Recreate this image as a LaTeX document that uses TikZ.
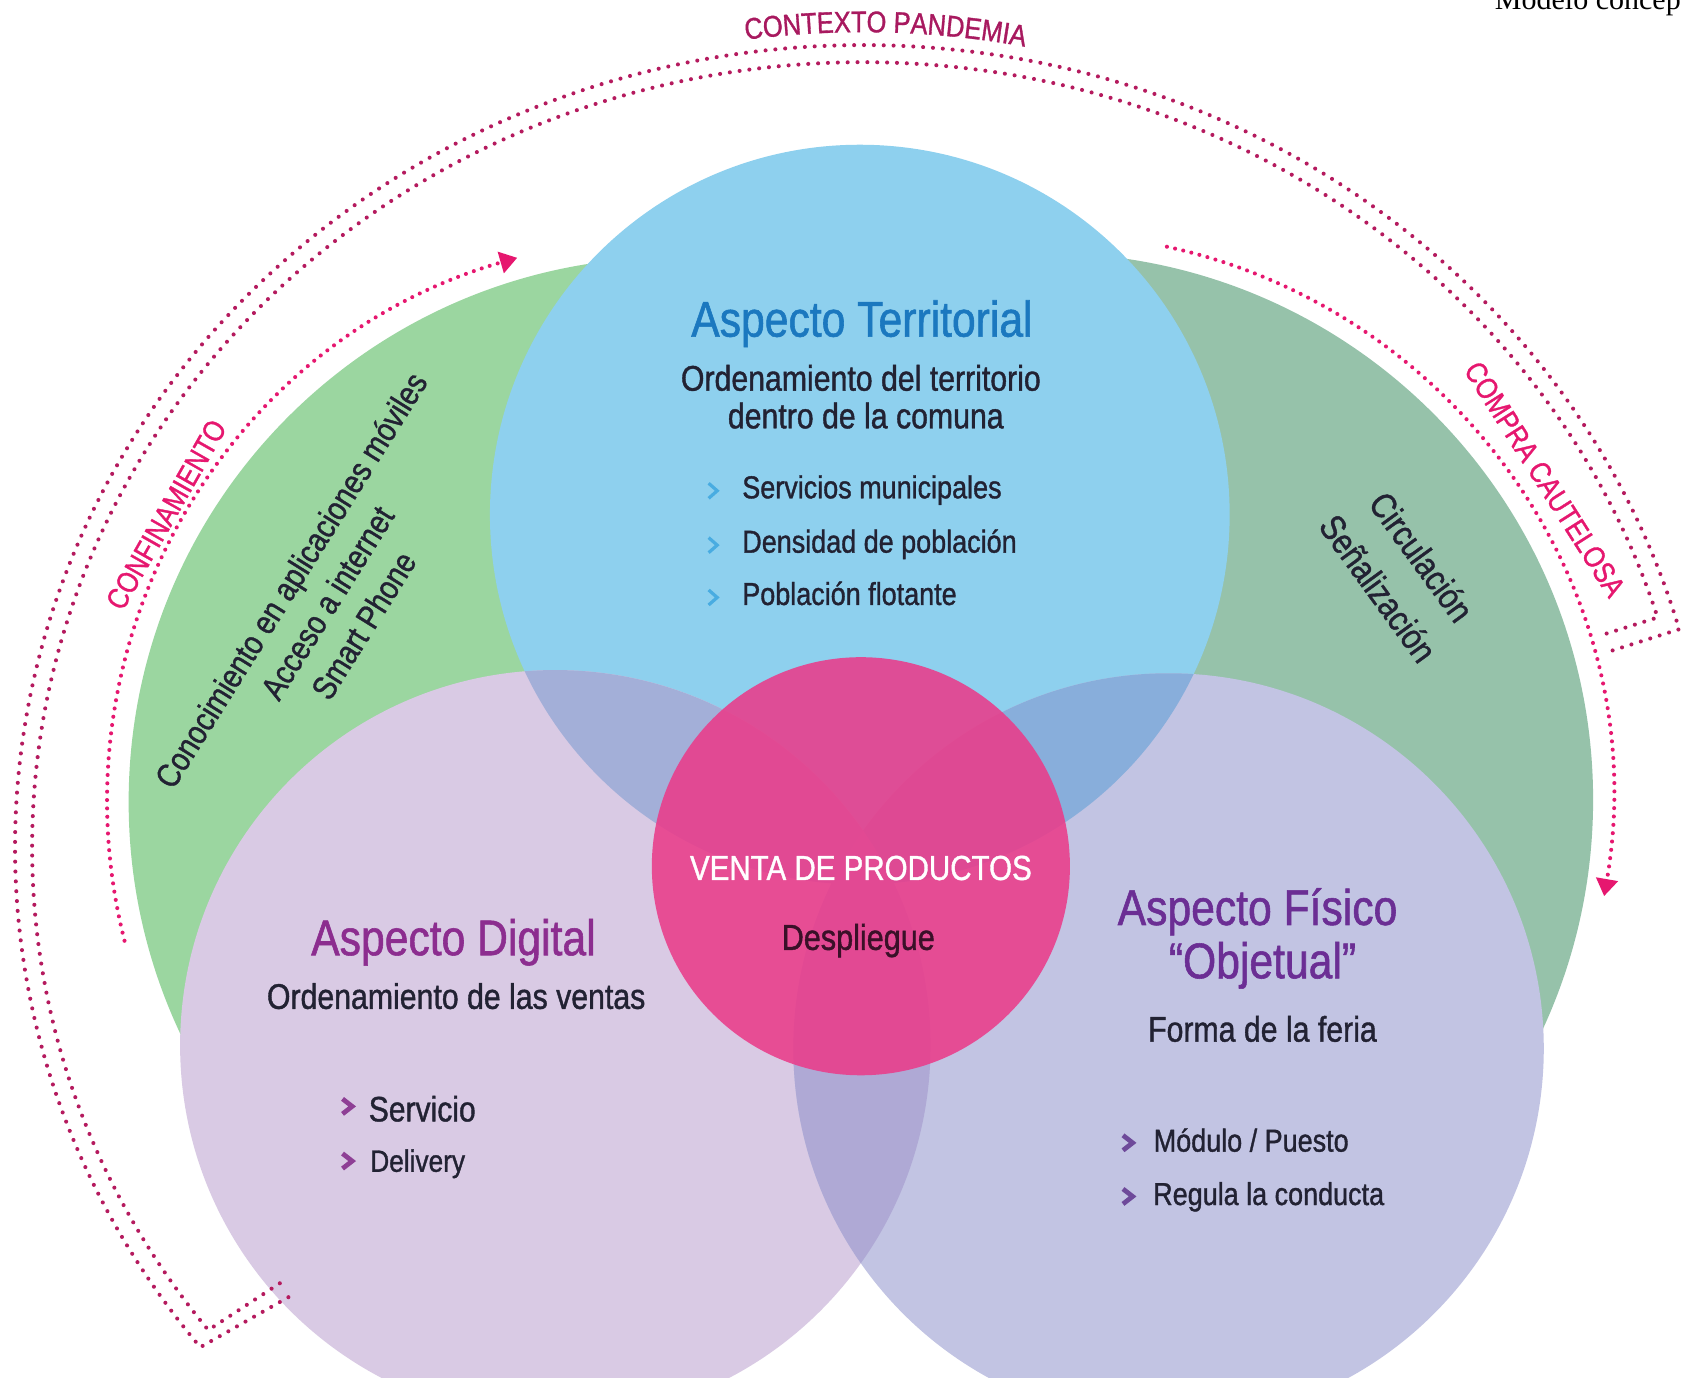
\documentclass[tikz,border=0pt]{standalone}
\usepackage{fontspec}
\setmainfont{Liberation Sans}[FakeStretch=0.85,FakeBold=1.1]
\newfontfamily\modelfont{Liberation Serif}
\usetikzlibrary{arrows.meta,decorations.text}
\definecolor{greenL}{HTML}{9BD6A0}
\definecolor{greenR}{HTML}{96C2AA}
\definecolor{cblue}{HTML}{8ED0EE}
\definecolor{clilac}{HTML}{D9CAE4}
\definecolor{clav}{HTML}{C2C4E3}
\definecolor{bluelilac}{HTML}{A3AFD8}
\definecolor{bluelav}{HTML}{88AEDB}
\definecolor{lilaclav}{HTML}{AFA9D5}
\definecolor{cpink}{HTML}{EA3C8A}
\definecolor{bandcol}{HTML}{B51A5E}
\definecolor{arrowcol}{HTML}{E6176F}
\definecolor{ctxcol}{HTML}{A8195F}
\definecolor{terrcol}{HTML}{1B78BF}
\definecolor{digcol}{HTML}{8C2D8F}
\definecolor{fiscol}{HTML}{6B2E94}
\definecolor{bodycol}{HTML}{222233}
\definecolor{chevblue}{HTML}{49ACE1}
\definecolor{chevdig}{HTML}{8E3F95}
\definecolor{chevfis}{HTML}{6E4A9A}
\definecolor{despcol}{HTML}{3A1028}
\newcommand\ctxfont{\fontsize{13.9}{16}\selectfont}
\newcommand\mychev[6]{\draw[draw=#3, line width=#4, line join=miter] (#1-#5,#2-#6) -- (#1+#5,#2) -- (#1-#5,#2+#6);}
\begin{document}
\begin{tikzpicture}[x=0.5pt,y=-0.5pt,
  titletxt/.style={font=\fontsize{23.4}{27}\selectfont, anchor=base, inner sep=0pt},
  subtxt/.style={font=\fontsize{16.6}{19}\selectfont, text=bodycol, anchor=base, inner sep=0pt},
  itemtxt/.style={font=\fontsize{14.8}{17}\selectfont, text=bodycol, anchor=base west, inner sep=0pt},
  band/.style={draw=bandcol, line width=1.9pt, line cap=round, dash pattern=on 0pt off 4.6pt},
  arcarrow/.style={draw=arrowcol, line width=1.9pt, line cap=round, dash pattern=on 0pt off 3.9pt, -{Triangle[length=8pt,width=10pt]}},
  lbl/.style={font=\fontsize{13.9}{16}\selectfont, text=arrowcol, inner sep=0pt},
  greentxt/.style={text=bodycol, align=center, inner sep=0pt}]

\useasboundingbox (0,0) rectangle (1568,1285);
\fill[white] (0,0) rectangle (1568,1285);

% green circles
\begin{scope}
  \clip (0,0) rectangle (802,1050);
  \fill[greenL] (628,748) circle (508);
\end{scope}
\begin{scope}
  \clip (802,0) rectangle (1568,1050);
  \fill[greenR] (976,746) circle (510);
\end{scope}

% main circles
\fill[cblue] (802,480) circle (345);
\fill[clilac] (518,975) circle (350);
\fill[clav] (1090,978) circle (350);
\begin{scope}
  \clip (802,480) circle (345);
  \fill[bluelilac] (518,975) circle (350);
  \fill[bluelav] (1090,978) circle (350);
\end{scope}
\begin{scope}
  \clip (518,975) circle (350);
  \fill[lilaclav] (1090,978) circle (350);
\end{scope}
\fill[cpink, opacity=0.88] (803,808) circle (195);

% outer double dotted bracket
\coordinate (bandLo) at (269,1210);
\coordinate (bandLi) at (261,1197);
\coordinate (bandRo) at (1497,609);
\coordinate (bandRi) at (1492,593);
\draw[band] (bandLo) -- ([shift={(141.4:791 and 748)}]805,790)
   arc[start angle=141.4, end angle=344.25, x radius=791, y radius=748] -- (bandRo);
\draw[band] (bandLi) -- ([shift={(142:775 and 732)}]805,790)
   arc[start angle=142, end angle=343, x radius=775, y radius=732] -- (bandRi);

% context label along the arc
\path[decorate, decoration={text along path, text align=center, text color=ctxcol,
   text={|\ctxfont|CONTEXTO PANDEMIA}}]
   ([shift={(-104:803 and 760)}]805,790) arc[start angle=-104, end angle=-73, x radius=803, y radius=760];

% inner dotted arrows
\coordinate (confS) at ([shift={(165.8:528)}]628,748);
\draw[arcarrow] (confS) arc[start angle=165.8, end angle=254, radius=528];
\coordinate (compS) at ([shift={(-77.7:528)}]976,746);
\draw[arcarrow] (compS) arc[start angle=-77.7, end angle=9.8, radius=528];
\node[lbl, rotate=60.4] (confin) at (155,480) {CONFINAMIENTO};
\node[lbl, rotate=-57.5] (compra) at (1441,447) {COMPRA CAUTELOSA};

% top right caption (cut)
\node[anchor=base west, inner sep=0pt, font=\modelfont\fontsize{14}{16}\selectfont] (modelo) at (1394,8.7) {Modelo concep};

% green texts
\node[greentxt, font=\fontsize{15.6}{20}\selectfont, rotate=58] (gleft) at (305,562)
  {Conocimiento en aplicaciones móviles\\Acceso a internet\\Smart Phone};
\node[greentxt, font=\fontsize{16.6}{25}\selectfont, rotate=-54] (gright) at (1306,534)
  {Circulación\\Señalización};

% territorial
\node[titletxt, text=terrcol] (terrT) at (804,314) {Aspecto Territorial};
\node[subtxt] (terrS1) at (803,364.4) {Ordenamiento del territorio};
\node[subtxt] (terrS2) at (807.6,399.5) {dentro de la comuna};
\node[itemtxt] (terrI1) at (692,464.8) {Servicios municipales};
\node[itemtxt] (terrI2) at (692,515.5) {Densidad de población};
\node[itemtxt] (terrI3) at (692,564.3) {Población flotante};
\mychev{665}{457.8}{chevblue}{1.5pt}{4}{7}
\mychev{665}{508.5}{chevblue}{1.5pt}{4}{7}
\mychev{665}{557.3}{chevblue}{1.5pt}{4}{7}

% digital
\node[titletxt, text=digcol] (digT) at (423,891) {Aspecto Digital};
\node[subtxt] (digS) at (425.5,941) {Ordenamiento de las ventas};
\node[itemtxt, font=\fontsize{16.5}{18}\selectfont] (digI1) at (343.6,1046) {Servicio};
\node[itemtxt, font=\fontsize{14.4}{17}\selectfont] (digI2) at (345,1093) {Delivery};
\mychev{324}{1032}{chevdig}{2.2pt}{4.5}{7}
\mychev{324}{1083}{chevdig}{2.2pt}{4.5}{7}

% fisico
\node[titletxt, text=fiscol] (fisT1) at (1173,862.8) {Aspecto Físico};
\node[titletxt, text=fiscol] (fisT2) at (1177.6,912.5) {“Objetual”};
\node[subtxt] (fisS) at (1177.6,971.6) {Forma de la feria};
\node[itemtxt] (fisI1) at (1075.8,1074.2) {Módulo / Puesto};
\node[itemtxt] (fisI2) at (1075.3,1124) {Regula la conducta};
\mychev{1052}{1066}{chevfis}{2.2pt}{4.5}{7}
\mychev{1052}{1116}{chevfis}{2.2pt}{4.5}{7}

% centre
\node[anchor=base, inner sep=0pt, text=white, font=\fontsize{16.2}{18}\selectfont] (venta) at (803,820.8) {VENTA DE PRODUCTOS};
\node[anchor=base, inner sep=0pt, text=despcol, font=\fontsize{16.8}{19}\selectfont] (desp) at (800.6,886) {Despliegue};
\end{tikzpicture}
\end{document}
